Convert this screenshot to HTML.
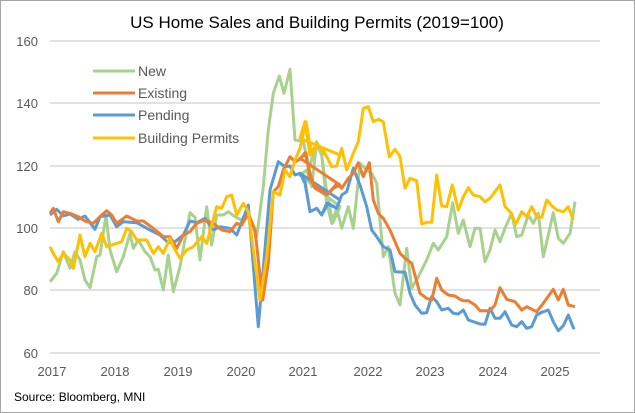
<!DOCTYPE html>
<html><head><meta charset="utf-8"><style>
body{margin:0;background:#fff}
svg{display:block;font-family:"Liberation Sans",sans-serif}
</style></head><body>
<svg id="s" width="635" height="413" viewBox="0 0 635 413">
<rect x="0.5" y="0.5" width="634" height="412" fill="#fff" stroke="#a6a6a6"/>
<text x="317" y="28" text-anchor="middle" font-size="17" fill="#000">US Home Sales and Building Permits (2019=100)</text>
<g stroke="#d9d9d9" stroke-width="1.5">
<line x1="50" x2="600" y1="41" y2="41"/><line x1="50" x2="600" y1="103" y2="103"/><line x1="50" x2="600" y1="166" y2="166"/><line x1="50" x2="600" y1="228" y2="228"/><line x1="50" x2="600" y1="290" y2="290"/><line x1="50" x2="600" y1="353" y2="353"/>
</g>
<g font-size="13" fill="#595959" text-anchor="end">
<text x="38" y="46">160</text><text x="38" y="108">140</text><text x="38" y="171">120</text><text x="38" y="233">100</text><text x="38" y="295">80</text><text x="38" y="358">60</text>
</g>
<g font-size="13" fill="#595959" text-anchor="middle">
<text x="52" y="376">2017</text><text x="115" y="376">2018</text><text x="178" y="376">2019</text><text x="241" y="376">2020</text><text x="303" y="376">2021</text><text x="368" y="376">2022</text><text x="430" y="376">2023</text><text x="493" y="376">2024</text><text x="555" y="376">2025</text>
</g>
<text x="14" y="401" font-size="12" fill="#000">Source: Bloomberg, MNI</text>
<g id="lines" fill="none" stroke-width="3" stroke-linejoin="round"></g>
<g stroke-width="3">
<line x1="93" x2="135" y1="71" y2="71" stroke="#a9d18e"/>
<line x1="93" x2="135" y1="93" y2="93" stroke="#ed7d31"/>
<line x1="93" x2="135" y1="115" y2="115" stroke="#5b9bd5"/>
<line x1="93" x2="135" y1="138" y2="138" stroke="#ffc000"/>
</g>
<g font-size="14" fill="#595959">
<text x="138" y="76">New</text><text x="138" y="98">Existing</text><text x="138" y="120">Pending</text><text x="138" y="143">Building Permits</text>
</g>
</svg>
<script>
var S={
green:["#a9d18e",[30,665,50,640,70,575,90,625,105,575,120,600,135,660,150,683,170,590,180,585,198,465,210,570,230,635,250,590,270,520,280,565,295,540,315,575,330,590,345,630,355,628,370,690,385,585,400,695,420,620,450,458,465,472,480,600,500,440,515,555,530,465,550,465,565,455,585,470,605,480,625,470,650,530,670,380,685,210,700,100,718,48,732,100,750,28,765,240,790,245,808,325,828,250,845,285,858,380,878,490,900,440],[0,345,20,330,35,380,50,245,65,285,80,430,95,490,110,445,125,505,145,440,160,505,180,310,200,330,215,340,230,370,250,590,265,560,285,700,300,735,320,565,335,685,355,650,380,600,400,550,415,570,440,530,458,428,475,520,490,480,510,560,525,505,540,505,555,605,570,570,585,510,600,545,615,505,635,460,650,530,665,525,685,465,700,490,715,460,730,590,745,525,760,458,775,535,790,550,810,520,825,425]],
blue:["#5b9bd5",[30,465,50,448,70,468,90,462,115,478,135,468,165,508,180,470,210,465,230,500,250,485,290,488,330,510,360,525,385,548,405,545,430,525,450,483,470,488,495,475,520,510,540,500,570,505,590,525,625,435,655,800,690,390,715,305,735,320,750,318,765,345,780,340,795,370,810,455,830,445,845,465,865,430,890,445,900,420],[0,340,15,365,30,455,50,445,65,465,80,430,110,445,125,405,140,395,160,325,180,375,200,440,215,510,230,530,250,560,270,570,285,635,315,637,330,700,345,735,365,760,380,758,395,710,410,725,425,750,445,745,460,760,475,762,490,750,505,780,520,785,540,792,555,793,570,745,585,775,600,775,615,755,635,795,650,800,665,785,680,805,695,800,710,765,725,757,745,750,760,785,775,812,790,797,805,765,822,808]],
orange:["#ed7d31",[30,460,40,445,55,485,70,455,95,462,115,470,135,483,160,490,185,465,200,452,215,465,230,490,260,468,290,483,310,483,340,505,370,530,390,530,410,565,430,525,450,515,470,490,495,480,520,490,545,510,570,515,590,490,605,495,625,460,645,510,668,720,685,610,700,395,715,380,730,330,750,290,765,305,780,298,795,278,810,340,820,370,830,380,860,405,880,385,900,375],[0,295,18,280,30,355,45,385,80,405,110,372,125,385,145,355,160,340,175,308,190,350,208,308,220,420,235,460,250,475,270,510,300,580,315,595,335,610,360,700,380,715,395,720,410,655,425,690,445,705,465,708,480,718,490,722,505,722,525,735,540,752,570,752,585,735,600,683,620,718,645,725,665,750,680,740,710,755,730,730,760,688,775,720,790,688,805,735,825,740]],
yellow:["#ffc000",[30,560,40,580,55,605,70,580,90,600,100,625,120,525,135,590,150,550,165,575,185,520,200,560,245,545,260,505,275,515,290,540,320,540,340,580,355,560,370,580,390,535,400,560,420,595,440,570,460,560,485,530,500,550,530,440,545,445,560,410,575,405,590,465,610,430,625,455,660,720,680,590,700,395,720,405,735,330,750,350,765,300,780,265,798,185,815,285,830,252,850,270,860,290,875,320,890,318,900,285],[0,235,15,185,30,285,50,250,65,270,80,290,95,320,110,318,125,265,140,330,160,280,175,245,190,145,205,140,220,185,235,178,250,185,268,290,285,268,300,290,315,385,330,355,350,362,365,492,380,487,395,487,410,345,425,438,440,440,457,375,475,450,490,410,505,383,520,405,540,410,555,425,570,415,585,395,600,375,615,440,630,455,648,492,665,455,680,470,695,440,710,470,725,472,740,420,755,437,770,450,790,455,805,440,820,480]]};
var g=document.getElementById('lines'),ns="http://www.w3.org/2000/svg";
for(var k in S){var a=S[k][1],b=S[k][2],p=[];
for(var i=0;i<a.length;i+=2)p.push((40+a[i]/3).toFixed(1)+","+(60+a[i+1]/3).toFixed(1));
for(var i=0;i<b.length;i+=2)p.push((300+b[i]/3).toFixed(1)+","+(60+b[i+1]/3).toFixed(1));
var l=document.createElementNS(ns,"polyline");l.setAttribute("points",p.join(" "));l.setAttribute("stroke",S[k][0]);g.appendChild(l);}
</script>
</body></html>
